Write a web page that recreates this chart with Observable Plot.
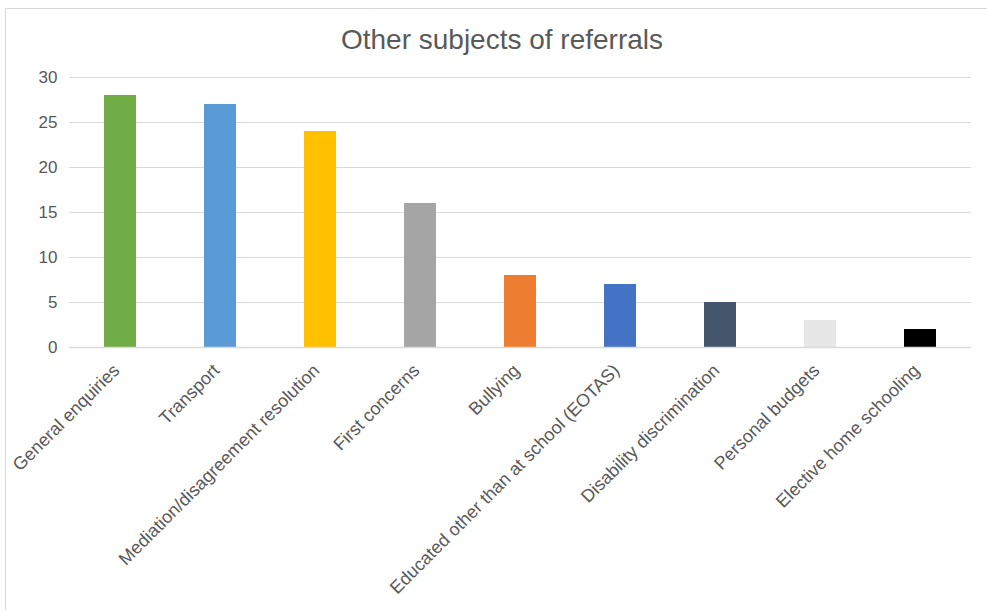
<!DOCTYPE html>
<html>
<head>
<meta charset="utf-8">
<script src="https://cdn.jsdelivr.net/npm/d3@7"></script>
<script src="https://cdn.jsdelivr.net/npm/@observablehq/plot@0.6"></script>
<style>
  html, body { margin: 0; padding: 0; background: #fff; }
  #wrap { position: relative; width: 987px; height: 610px; overflow: hidden; font-family: "Liberation Sans", Arial, sans-serif; }
  #frame { position: absolute; left: 5px; top: 8px; width: 1000px; height: 700px; border: 1px solid #d9d9d9; box-sizing: border-box; }
  #title { position: absolute; left: 0; top: 24px; width: 1004px; text-align: center; font-size: 28px; color: #595959; }
  #chart { position: absolute; left: 0; top: 0; }
</style>
</head>
<body>
<div id="wrap">
  <div id="frame"></div>
  <div id="chart"></div>
  <div id="title">Other subjects of referrals</div>
</div>
<script>
const categories = [
  "General enquiries",
  "Transport",
  "Mediation/disagreement resolution",
  "First concerns",
  "Bullying",
  "Educated other than at school (EOTAS)",
  "Disability discrimination",
  "Personal budgets",
  "Elective home schooling"
];
const values = [28, 27, 24, 16, 8, 7, 5, 3, 2];
const colors = ["#70ad47", "#5b9bd5", "#ffc000", "#a5a5a5", "#ed7d31", "#4472c4", "#44546a", "#e7e6e6", "#000000"];
const yTicks = [0, 5, 10, 15, 20, 25, 30];

const data = categories.map((c, i) => ({category: c, value: values[i], color: colors[i]}));

const chart = Plot.plot({
  width: 987,
  height: 610,
  marginTop: 77,
  marginLeft: 69,
  marginRight: 16,
  marginBottom: 263,
  style: {fontFamily: "'Liberation Sans', Arial, sans-serif", fontSize: "17px", color: "#595959", background: "transparent"},
  x: {domain: categories, paddingInner: 0.68, paddingOuter: 0.34, label: null},
  y: {domain: [0, 30], ticks: yTicks, label: null},
  marks: [
    Plot.gridY(yTicks, {stroke: "#d9d9d9", strokeOpacity: 1, strokeWidth: 1}),
    Plot.barY(data, {x: "category", y: "value", fill: "color"}),
    Plot.ruleY([0], {stroke: "#d9d9d9", strokeWidth: 1.5}),
    Plot.axisY(yTicks, {tickSize: 0, tickPadding: 12, fontSize: 17, fill: "#595959"}),
    Plot.axisX({tickSize: 0, tickRotate: -45, tickPadding: 20, dx: -4, fontSize: 18, fill: "#595959"})
  ]
});
document.getElementById("chart").appendChild(chart);
</script>
</body>
</html>
